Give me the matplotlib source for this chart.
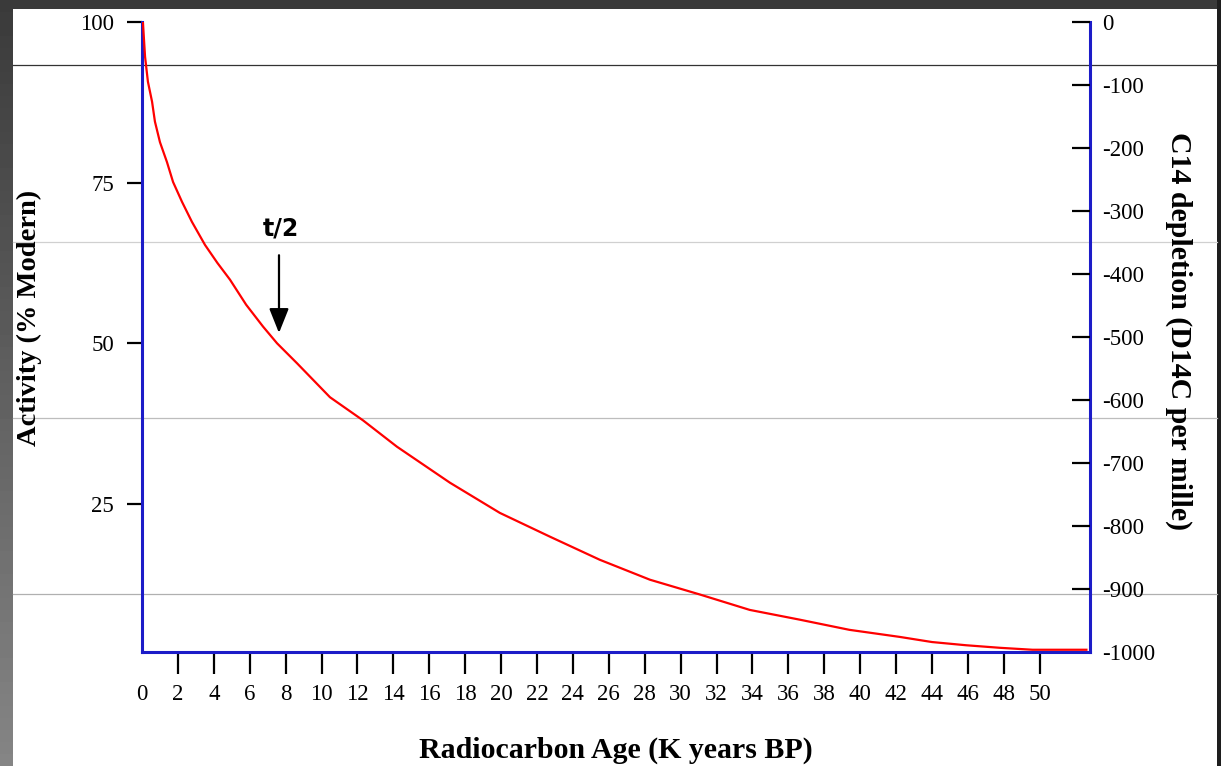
import numpy as np
import matplotlib.pyplot as plt
from matplotlib.patches import Rectangle

# values
age_k = [0.05, 0.17, 0.33, 0.56, 0.72, 1.00, 1.39, 1.73, 2.23, 2.78, 3.51, 4.20, 4.90,
         5.80, 6.74, 7.52, 8.63, 10.47, 12.31, 14.20, 17.15, 19.93, 22.72, 25.5, 28.29,
         31.07, 33.85, 36.6, 39.4, 42.2, 44.0, 45.9, 47.8, 49.6, 52.6]
activity = [100, 94.6, 90.7, 87.6, 84.5, 81.3, 78.2, 75.1, 72.0, 68.9, 65.3, 62.5, 59.9,
            56.0, 52.6, 50.0, 46.9, 41.6, 38.0, 33.9, 28.3, 23.6, 19.9, 16.3, 13.2,
            10.9, 8.5, 7.0, 5.4, 4.3, 3.5, 3.0, 2.6, 2.3, 2.3]

x_ticks = list(range(0, 51, 2))
left_ticks = [25, 50, 75, 100]
right_ticks = list(range(0, -1001, -100))

half_life_x = 7.63
half_life_y = 51.6

W, H = 1221, 766
fig = plt.figure(figsize=(W / 100, H / 100), dpi=100)

# slide background: dark frame, gradient on the left, white page, ruled lines
bg = fig.add_axes([0, 0, 1, 1], zorder=-5)
bg.set_xlim(0, W)
bg.set_ylim(H, 0)
bg.axis('off')
grad = np.linspace(0.23, 0.52, 64).reshape(-1, 1)
bg.imshow(np.tile(grad, (1, 2)), cmap='gray', vmin=0, vmax=1,
          extent=[0, W, H, 0], aspect='auto')
bg.add_patch(Rectangle((0, 0), W, 9, color='#3a3a3a', lw=0))
bg.add_patch(Rectangle((1217, 0), 4, H, color='#1e1e1e', lw=0))
bg.add_patch(Rectangle((13, 9), 1204, H - 9, color='white', lw=0))
for yy, cc in [(65, '#333333'), (242, '#d0d0d0'), (418, '#bdbdbd'), (594, '#b0b0b0')]:
    bg.plot([13, 1217], [yy, yy], color=cc, lw=0.9)

serif = ['Liberation Serif', 'DejaVu Serif']
blue = '#1c1cc8'

ax = fig.add_axes([142 / W, 114 / H, 948 / W, 630 / H])
ax.patch.set_alpha(0)
ax.plot(age_k, activity, color='red', lw=1.6, zorder=3)
ax.set_xlim(0, 52.8)
ax.set_ylim(1.95, 100)

ax.spines['top'].set_visible(False)
for s in ['left', 'right', 'bottom']:
    ax.spines[s].set_color(blue)
    ax.spines[s].set_linewidth(2.2)

ax.set_xticks(x_ticks)
ax.set_xticklabels([str(v) for v in x_ticks], fontfamily=serif, fontsize=16.5)
ax.tick_params(axis='x', direction='out', length=16, width=1.6, color='black', pad=7)
ax.xaxis.get_major_ticks()[0].tick1line.set_visible(False)

ax.set_yticks(left_ticks)
ax.set_yticklabels([str(v) for v in left_ticks], fontfamily=serif, fontsize=16.5)
ax.tick_params(axis='y', direction='out', length=11, width=1.6, color='black', pad=9)

ax.set_xlabel('Radiocarbon Age (K years BP)', fontfamily=serif, fontsize=21.5,
              fontweight='bold')
ax.xaxis.set_label_coords(0.5, -0.135)
ax.set_ylabel('Activity (% Modern)', fontfamily=serif, fontsize=20.5, fontweight='bold')
ax.yaxis.set_label_coords(-0.105, 0.53)

ax2 = ax.twinx()
ax2.set_ylim(-1000, 0)
for s in ax2.spines.values():
    s.set_visible(False)
ax2.set_yticks(right_ticks)
ax2.set_yticklabels([str(v) for v in right_ticks], fontfamily=serif, fontsize=16.5)
ax2.tick_params(axis='y', direction='in', length=13, width=1.6, color='black', pad=9)
ax2.yaxis.get_major_ticks()[-1].tick2line.set_visible(False)
ax2.set_ylabel('C14 depletion (D14C per mille)', fontfamily=serif, fontsize=21.5,
               fontweight='bold', rotation=-90)
ax2.yaxis.set_label_coords(1.108, 0.51)

ax.annotate('', xy=(half_life_x, half_life_y), xytext=(half_life_x, 63.7),
            arrowprops=dict(arrowstyle='-|>,head_length=1.5,head_width=0.6',
                            color='black', lw=1.6, shrinkA=0, shrinkB=0))
ax.text(half_life_x + 0.1, 67.9, 't/2', ha='center', va='center', fontsize=17,
        fontweight='bold', fontfamily=['DejaVu Sans'])

fig.savefig('out.png', dpi=100)
